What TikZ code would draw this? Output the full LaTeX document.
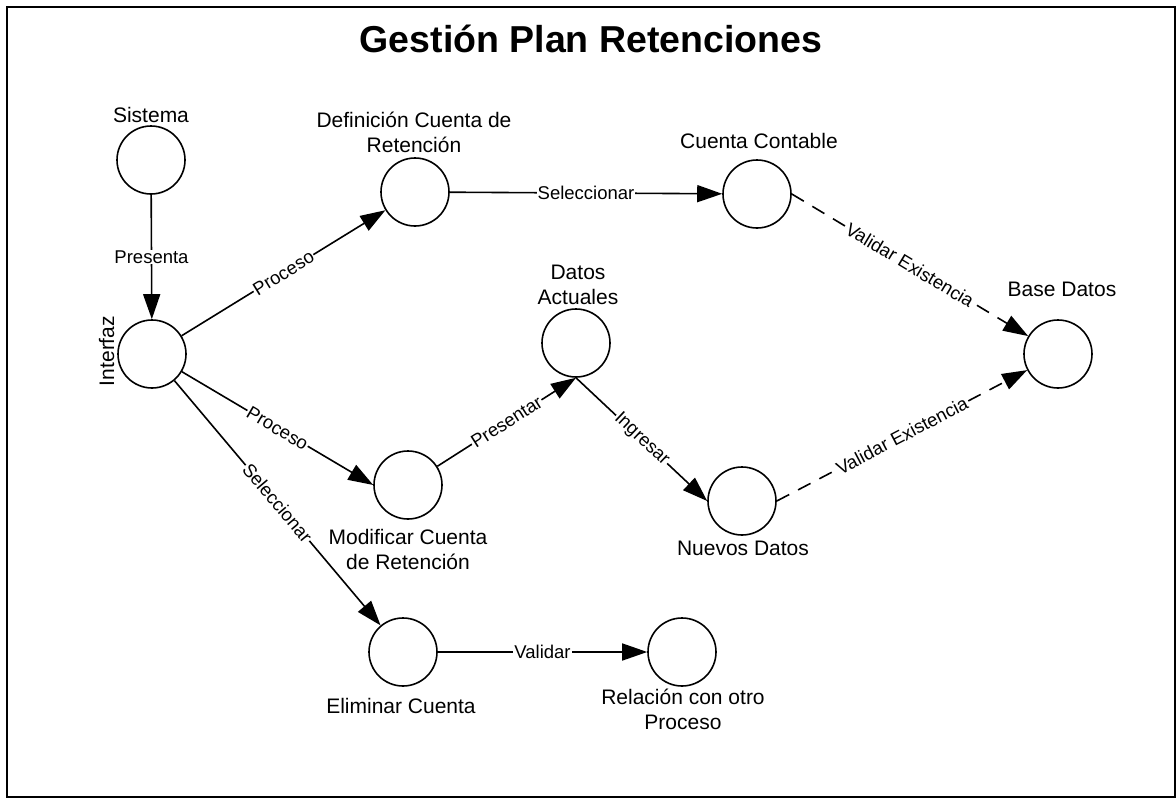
\documentclass[tikz,border=0pt]{standalone}
\usepackage{fontspec}
\setmainfont{Liberation Sans}
\usetikzlibrary{arrows.meta}

\begin{document}
\begin{tikzpicture}[x=1pt,y=-1pt,line width=1.6pt,
  proc/.style={draw,circle,minimum size=68pt,inner sep=0pt},
  txt/.style={font=\fontsize{21}{25}\selectfont,align=center,anchor=base},
  lbl/.style={font=\fontsize{18.5}{20}\selectfont,fill=white,inner sep=1pt},
  >={Triangle[length=25pt,width=17pt]}]
\useasboundingbox (0,0) rectangle (1176,798);
\draw[line width=2pt] (7,7) rectangle (1175,797);

\node[font=\fontsize{37.5}{40}\selectfont\bfseries,anchor=base] (titulo) at (591,52) {Gestión Plan Retenciones};

\node[proc] (sis) at (151,160) {};
\node[proc] (int) at (152,354) {};
\node[proc] (def) at (415,192) {};
\node[proc] (cta) at (757,194) {};
\node[proc] (bd) at (1058,354) {};
\node[proc] (dat) at (576,343) {};
\node[proc] (mod) at (408,485) {};
\node[proc] (nue) at (742,501) {};
\node[proc] (eli) at (403,652) {};
\node[proc] (rel) at (682,652) {};

% base anchor sits on the last line
\node[txt] (tsis) at (151,122) {Sistema};
\node[txt,rotate=90] (tint) at (114,351) {Interfaz};
\node[txt] (tdef) at (414,152) {Definición Cuenta de\\Retención};
\node[txt] (tcta) at (759,148) {Cuenta Contable};
\node[txt] (tbd) at (1062,296) {Base Datos};
\node[txt] (tdat) at (578,304) {Datos\\Actuales};
\node[txt] (tmod) at (408,569) {Modificar Cuenta\\de Retención};
\node[txt] (tnue) at (743,555) {Nuevos Datos};
\node[txt] (teli) at (401,713) {Eliminar Cuenta};
\node[txt] (trel) at (683,729) {Relación con otro\\Proceso};

\path[draw,->] (sis) -- node[lbl] {Presenta} (int);
\path[draw,->] (int) -- node[lbl,sloped] {Proceso} (def);
\path[draw,->] (def) -- node[lbl] {Seleccionar} (cta);
\path[draw,->,dash pattern=on 14pt off 10pt] (cta.east) -- node[lbl,sloped] {Validar Existencia} (bd);
\path[draw,->] (int) -- node[lbl,sloped] {Proceso} (mod.west);
\path[draw,->] (mod) -- node[lbl,sloped] {Presentar} (dat.south);
\path[draw,->] (dat.south) -- node[lbl,sloped] {Ingresar} (nue.west);
\path[draw,->,dash pattern=on 14pt off 10pt] (nue.east) -- node[lbl,sloped] {Validar Existencia} (bd);
\path[draw,->] (int) -- node[lbl,sloped] {Seleccionar} (eli);
\path[draw,->] (eli) -- node[lbl] {Validar} (rel);
\end{tikzpicture}
\end{document}
